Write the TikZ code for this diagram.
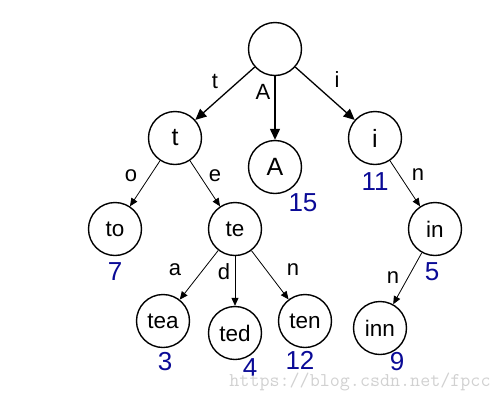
\documentclass[tikz,border=0pt]{standalone}
\usepackage{fontspec}
\setmainfont{Liberation Sans}
\usetikzlibrary{arrows.meta}
\definecolor{numblue}{RGB}{10,10,150}
\begin{document}
\begin{tikzpicture}[x=1pt,y=-1pt,
  tnode/.style={circle,draw,line width=1.4pt,minimum size=53pt,inner sep=0pt,font=\fontsize{22.5}{24}\selectfont},
  bignode/.style={tnode,font=\fontsize{25}{27}\selectfont},
  topedge/.style={line width=1.3pt,-{Triangle[length=11pt,width=10pt]}},
  lowedge/.style={line width=0.8pt,-{Triangle[length=8pt,width=7pt]}},
  elab/.style={font=\fontsize{22}{24}\selectfont,inner sep=0pt},
  num/.style={font=\fontsize{26}{28}\selectfont,text=numblue,inner sep=0pt}]
\useasboundingbox (0,0) rectangle (504,400);
\node[tnode] (root) at (275,49) {};
\node[bignode] (t) at (175,138) {t};
\node[bignode] (A) at (275,167) {A};
\node[bignode] (i) at (375,138) {i};
\node[tnode] (to) at (115,229) {to};
\node[tnode] (te) at (235,229) {te};
\node[tnode] (tea) at (163,321) {tea};
\node[tnode] (ted) at (235,333) {ted};
\node[tnode] (ten) at (305,321) {ten};
\node[tnode] (in) at (435,229) {in};
\node[tnode] (inn) at (380,328) {inn};
\draw[topedge] (root) -- (t);
\draw[topedge] (root) -- (A);
\draw[topedge] (root) -- (i);
\draw[lowedge] (t) -- (to);
\draw[lowedge] (t) -- (te);
\draw[lowedge] (te) -- (tea);
\draw[lowedge] (te) -- (ted);
\draw[lowedge] (te) -- (ten);
\draw[lowedge] (i) -- (in);
\draw[lowedge] (in) -- (inn);
\node[elab] (lt) at (215,81) {t};
\node[elab] (lA) at (263,92) {A};
\node[elab] (li) at (337,80) {i};
\node[elab] (lo) at (131,176) {o};
\node[elab] (le) at (215,176) {e};
\node[elab] (la) at (175,270) {a};
\node[elab] (ld) at (224,272) {d};
\node[elab] (ln1) at (293,270) {n};
\node[elab] (ln2) at (418,175) {n};
\node[elab] (ln3) at (393,278) {n};
\node[num] (n15) at (303,203) {15};
\node[num] (n11) at (375,182) {11};
\node[num] (n7) at (115,272) {7};
\node[num] (n3) at (165,362) {3};
\node[num] (n4) at (250,368) {4};
\node[num] (n12) at (300,360) {12};
\node[num] (n5) at (432,272) {5};
\node[num] (n9) at (397,362) {9};
\node[font=\ttfamily\fontsize{19.5}{21}\selectfont,text=black!18,inner sep=0pt] (wm) at (360,382) {https://blog.csdn.net/fpcc};
\end{tikzpicture}
\end{document}
